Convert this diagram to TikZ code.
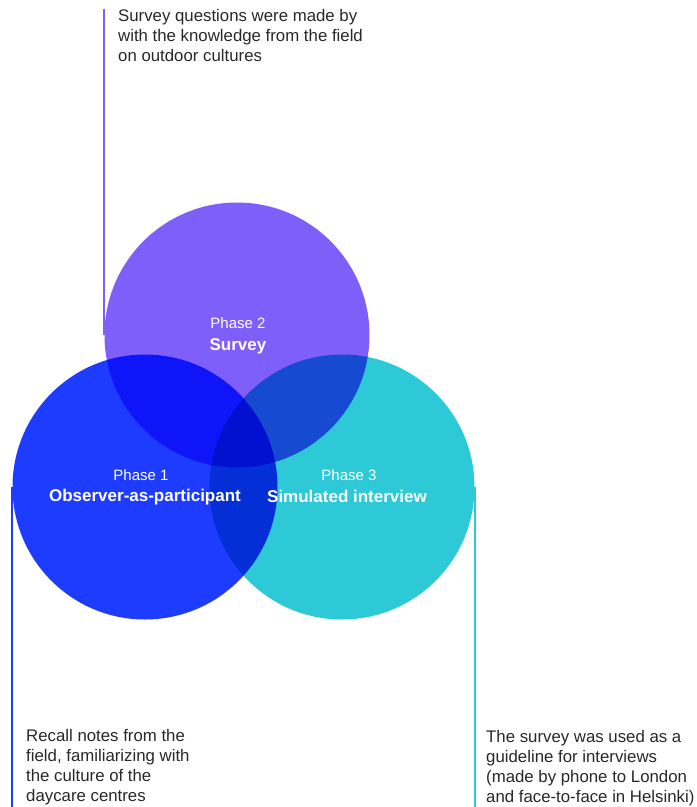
\documentclass[tikz,border=0pt]{standalone}
\usepackage{fontspec}
\setmainfont{Liberation Sans}
\usetikzlibrary{positioning}

\definecolor{phaseone}{RGB}{30,60,255}
\definecolor{phasetwo}{RGB}{127,95,249}
\definecolor{phasethree}{RGB}{46,201,214}
\definecolor{notegray}{RGB}{40,40,40}

\tikzset{
  phase/.style={circle, minimum size=265pt, inner sep=0pt, draw=none},
  phaselbl/.style={text=white, inner sep=0pt, font=\fontsize{15}{18}\selectfont},
  phasename/.style={text=white, inner sep=0pt, font=\bfseries\fontsize{17}{20}\selectfont},
  note/.style={anchor=north west, align=left, inner sep=0pt, text=notegray, font=\fontsize{16.8}{20}\selectfont},
  leader/.style={line width=1.8pt}
}

\begin{document}
\begin{tikzpicture}[x=1pt, y=-1pt]
	\useasboundingbox (0,0) rectangle (697,807);

	\begin{scope}[blend group=multiply]
		\node[phase, fill=phasetwo]   (survey)    at (237, 335) {};
		\node[phase, fill=phaseone]   (observer)  at (145, 487) {};
		\node[phase, fill=phasethree] (interview) at (342, 487) {};
	\end{scope}

	\node[phaselbl]  (surveyno)    at (238, 323) {Phase 2};
	\node[phasename] (surveyname)  at (238, 346) {Survey};
	\node[phaselbl]  (observerno)  at (141, 475) {Phase 1};
	\node[phasename] (observername) at (145, 497) {Observer-as-participant};
	\node[phaselbl]  (interviewno) at (349, 475) {Phase 3};
	\node[phasename] (interviewname) at (347, 496) {Simulated interview};

	\node[note] (surveynote) at (118, 9)
		{Survey questions were made by\\with the knowledge from the field\\on outdoor cultures};
	\node[note] (observernote) at (26, 729)
		{Recall notes from the\\field, familiarizing with\\the culture of the\\daycare centres};
	\node[note] (interviewnote) at (486, 730)
		{The survey was used as a\\guideline for interviews\\(made by phone to London\\and face-to-face in Helsinki)};

	\coordinate (surveytop) at (survey.west |- 0, 9);
	\coordinate (observerend) at (observer.west |- 0, 807);
	\coordinate (interviewend) at (interview.east |- 0, 807);

	\draw[leader, phasetwo] (surveytop) -- (survey.west);
	\draw[leader, phaseone] (observer.west) -- (observerend);
	\draw[leader, phasethree] (interview.east) -- (interviewend);
\end{tikzpicture}
\end{document}
